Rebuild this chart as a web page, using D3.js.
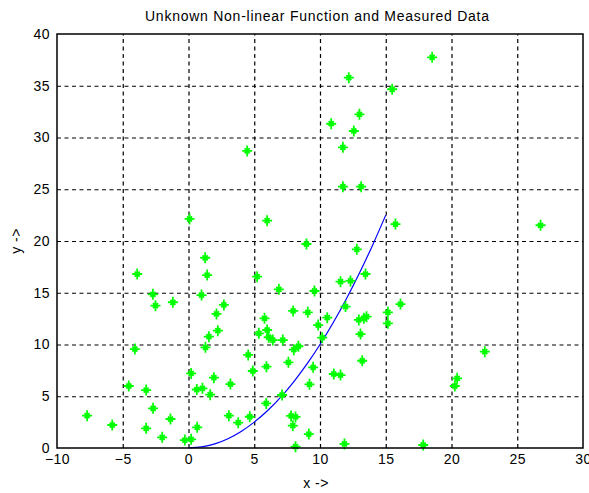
<!DOCTYPE html>
<html>
<head>
<meta charset="utf-8">
<script src="https://cdn.jsdelivr.net/npm/d3@7"></script>
<style>
  html, body { margin: 0; padding: 0; background: #fff; }
  svg { display: block; }
  text { font-family: "Liberation Sans", Arial, sans-serif; fill: #000; }
</style>
</head>
<body>
<svg id="chart" width="589" height="493"></svg>
<script>
// ── Data ──────────────────────────────────────────────────────────────────
const measuredX = [
  18.53, 12.19, 15.49, 13.00, 10.85, 12.57, 11.74, 11.74, 13.13, 15.74,
  26.77, 8.97, 12.80, 4.46, 0.08, 5.98, 1.27, 1.42, -3.90, 5.22,
  6.87, -2.71, 0.99, -2.51, -1.19, 2.69, 2.13, 7.96, 5.78, 2.23,
  5.35, 5.98, 6.10, 6.41, 7.17, 1.55, 1.29, -4.08, 8.01, 8.36,
  4.54, 7.60, 0.20, 4.89, 5.93, 1.93, 3.19, -4.54, -3.22, 0.63,
  1.06, 1.65, 7.12, 5.91, -7.71, -2.69, -1.37, 3.07, 4.66, 7.80,
  8.14, -5.80, -3.22, 0.66, 3.78, 7.93, -2.00, -0.28, 0.20, 8.14,
  13.46, 11.56, 12.32, 9.58, 16.12, 9.07, 11.94, 10.55, 9.86, 12.95,
  13.33, 13.54, 15.16, 15.16, 13.08, 10.17, 13.21, 9.48, 11.05, 11.56,
  9.20, 9.15, 11.86, 22.53, 20.43, 20.25, 17.85
];
const measuredY = [
  37.75, 35.78, 34.66, 32.24, 31.33, 30.63, 29.05, 25.25, 25.25, 21.64,
  21.52, 19.71, 19.20, 28.70, 22.13, 21.96, 18.38, 16.71, 16.81, 16.55,
  15.33, 14.85, 14.78, 13.75, 14.08, 13.82, 12.95, 13.24, 12.53, 11.34,
  11.08, 11.40, 10.70, 10.43, 10.43, 10.76, 9.73, 9.56, 9.50, 9.83,
  8.99, 8.28, 7.21, 7.44, 7.86, 6.79, 6.18, 5.99, 5.60, 5.65,
  5.77, 5.15, 5.12, 4.31, 3.12, 3.83, 2.80, 3.12, 3.02, 3.10,
  3.00, 2.22, 1.90, 2.00, 2.45, 2.16, 1.03, 0.77, 0.84, 0.13,
  16.81, 16.07, 16.14, 15.17, 13.91, 13.11, 13.66, 12.59, 11.88, 12.37,
  12.53, 12.69, 13.11, 12.05, 11.01, 10.66, 8.43, 7.79, 7.15, 7.05,
  6.15, 1.35, 0.39, 9.31, 6.73, 5.99, 0.29
];
const curveX = [0, 1, 2, 3, 4, 5, 6, 7, 8, 9, 10, 11, 12, 13, 14, 15];
const curveY = [0, 0.1, 0.4, 0.9, 1.6, 2.5, 3.6, 4.9, 6.4, 8.1, 10, 12.1, 14.4, 16.9, 19.6, 22.5];
const xTicks = [-10, -5, 0, 5, 10, 15, 20, 25, 30];
const yTicks = [0, 5, 10, 15, 20, 25, 30, 35, 40];

const TITLE = 'Unknown Non-linear Function and Measured Data';

// ── Layout ────────────────────────────────────────────────────────────────
const L = 57, R = 583, T = 34, B = 448;
const FONT = '"Liberation Sans", Arial, sans-serif';
const svg = d3.select('#chart');

const x = d3.scaleLinear().domain([-10, 30]).range([L, R]);
const y = d3.scaleLinear().domain([0, 40]).range([B, T]);

// ── Grid (dashed) ─────────────────────────────────────────────────────────
svg.append('g')
  .attr('transform', `translate(0,${B})`)
  .call(d3.axisBottom(x).tickValues(xTicks.slice(1, -1)).tickSize(-(B - T)).tickFormat(''))
  .call(g => g.select('.domain').remove())
  .call(g => g.selectAll('line')
    .attr('stroke', '#000').attr('stroke-width', 1.2).attr('stroke-dasharray', '4,3.5'));

svg.append('g')
  .attr('transform', `translate(${L},0)`)
  .call(d3.axisLeft(y).tickValues(yTicks.slice(1, -1)).tickSize(-(R - L)).tickFormat(''))
  .call(g => g.select('.domain').remove())
  .call(g => g.selectAll('line')
    .attr('stroke', '#000').attr('stroke-width', 1.2).attr('stroke-dasharray', '4,3.5'));

// ── Tick labels ───────────────────────────────────────────────────────────
svg.append('g')
  .attr('transform', `translate(0,${B})`)
  .call(d3.axisBottom(x).tickValues(xTicks).tickSize(0).tickPadding(6))
  .call(g => g.select('.domain').remove())
  .call(g => g.selectAll('text')
    .attr('font-size', '14px').attr('font-family', FONT).attr('fill', '#000')
    .attr('letter-spacing', '0.5px'));

svg.append('g')
  .attr('transform', `translate(${L},0)`)
  .call(d3.axisLeft(y).tickValues(yTicks).tickSize(0).tickPadding(7))
  .call(g => g.select('.domain').remove())
  .call(g => g.selectAll('text')
    .attr('font-size', '14px').attr('font-family', FONT).attr('fill', '#000')
    .attr('letter-spacing', '0.5px'));

// ── Curve ─────────────────────────────────────────────────────────────────
const curvePts = curveX.map((v, i) => [v, curveY[i]]);
svg.append('path')
  .datum(curvePts)
  .attr('fill', 'none')
  .attr('stroke', '#0000ff')
  .attr('stroke-width', 1.2)
  .attr('d', d3.line().x(d => x(d[0])).y(d => y(d[1])).curve(d3.curveMonotoneX));

// ── Measured points (asterisk markers) ────────────────────────────────────
const pts = measuredX.map((v, i) => [v, measuredY[i]]);
const star = 'M-5,0H5M0,-5.5V5.5M-2.5,-2.5L2.5,2.5M-2.5,2.5L2.5,-2.5';
svg.append('g').selectAll('path').data(pts).join('path')
  .attr('transform', d => `translate(${x(d[0])},${y(d[1])})`)
  .attr('d', star)
  .attr('fill', 'none')
  .attr('stroke', '#00ff00')
  .attr('stroke-width', 1.8);

// ── Box ───────────────────────────────────────────────────────────────────
svg.append('rect')
  .attr('x', L).attr('y', T).attr('width', R - L).attr('height', B - T)
  .attr('fill', 'none').attr('stroke', '#000').attr('stroke-width', 1.5);

// ── Labels ────────────────────────────────────────────────────────────────
svg.append('text')
  .attr('x', 145).attr('y', 21)
  .attr('font-size', '14px')
  .attr('textLength', 344)
  .attr('lengthAdjust', 'spacing')
  .text(TITLE);

svg.append('text')
  .attr('x', 316).attr('y', 488)
  .attr('text-anchor', 'middle')
  .attr('font-size', '14px')
  .attr('letter-spacing', '0.5px')
  .text('x ->');

svg.append('text')
  .attr('transform', `translate(21,${(T + B) / 2}) rotate(-90)`)
  .attr('text-anchor', 'middle')
  .attr('font-size', '14px')
  .attr('letter-spacing', '0.5px')
  .text('y ->');
</script>
</body>
</html>
